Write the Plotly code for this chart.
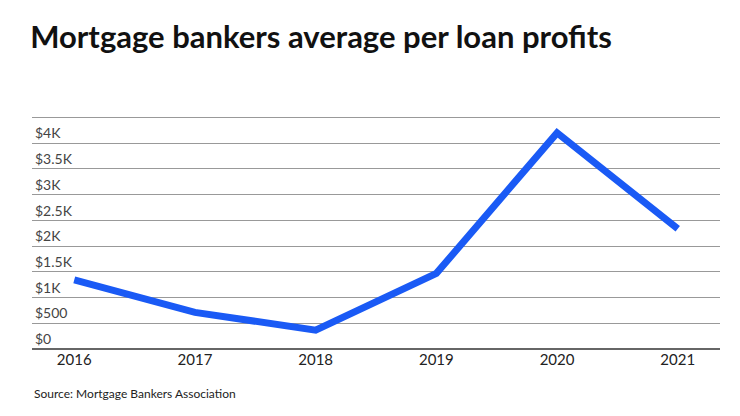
import plotly.graph_objects as go

years = [2016, 2017, 2018, 2019, 2020, 2021]
profits = [1346, 711, 367, 1470, 4202, 2339]
tick_vals = [0, 500, 1000, 1500, 2000, 2500, 3000, 3500, 4000, 4500]
tick_text = ["$0", "$500", "$1K", "$1.5K", "$2K", "$2.5K", "$3K", "$3.5K", "$4K", "$4.5K"]

fig = go.Figure()
fig.add_trace(go.Scatter(x=years, y=profits, mode="lines",
                         line=dict(color="#1a5af5", width=7), cliponaxis=False))

fig.update_layout(
    width=740, height=416,
    margin=dict(l=24, r=28, t=108, b=75, autoexpand=False),
    plot_bgcolor="white", paper_bgcolor="white",
    font=dict(family="Lato", color="#222", size=15),
    showlegend=False,
    title=dict(text="<b>Mortgage bankers average per loan profits</b>",
               x=0.03, xanchor="left", y=0.955, yanchor="top",
               font=dict(size=31, color="#111")),
    xaxis=dict(range=[2015.65, 2021.35], tickvals=years, showgrid=False,
               zeroline=False, showline=False, ticks="", tickfont=dict(size=15),
               automargin=False),
    yaxis=dict(range=[0, 4530], tickvals=tick_vals, ticktext=tick_text,
               ticklabelposition="inside top", gridcolor="#999", gridwidth=1,
               zeroline=True, zerolinecolor="#666", zerolinewidth=1.5,
               tickfont=dict(size=14), automargin=False),
    annotations=[dict(text="Source: Mortgage Bankers Association", x=0.0, y=-0.19,
                      xref="paper", yref="paper", xanchor="left", yanchor="middle",
                      showarrow=False, font=dict(size=12, color="#222"))],
)
fig.write_html("out.html")
